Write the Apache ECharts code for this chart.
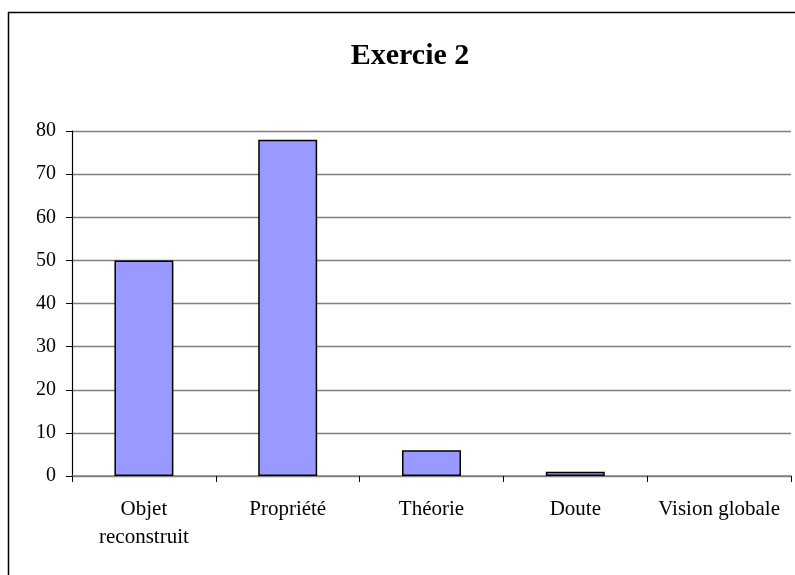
<!DOCTYPE html>
<html>
<head>
<meta charset="utf-8">
<script src="https://cdn.jsdelivr.net/npm/echarts@6/dist/echarts.min.js"></script>
<style>
  html, body { margin: 0; padding: 0; background: #fff; }
  #chart { width: 795px; height: 575px; }
</style>
</head>
<body>
<div id="chart"></div>
<script>
// categories and values
const categories = ['Objet\nreconstruit', 'Propriété', 'Théorie', 'Doute', 'Vision globale'];
const values = [50, 78, 6, 1, 0];
const yTicks = [0, 10, 20, 30, 40, 50, 60, 70, 80];

const font = '"Liberation Serif", "DejaVu Serif", serif';

const chart = echarts.init(document.getElementById('chart'), null, { renderer: 'canvas' });

// a zero-height bar shows no outline in the original
const barData = values.map((v) => (v === 0 ? { value: v, itemStyle: { borderWidth: 0 } } : v));

chart.setOption({
  backgroundColor: '#fff',
  animation: false,
  title: {
    text: 'Exercie 2',
    left: 405,
    top: 36,
    textAlign: 'center',
    textStyle: { fontFamily: font, fontSize: 30, fontWeight: 'bold', color: '#000' },
  },
  graphic: [
    {
      type: 'rect',
      shape: { x: 8.5, y: 12.5, width: 820, height: 620 },
      style: { fill: 'none', stroke: '#000', lineWidth: 1.5 },
      silent: true,
    },
  ],
  grid: { left: 72, right: 4, top: 131, bottom: 99, containLabel: false },
  xAxis: {
    type: 'category',
    data: categories,
    axisLine: { lineStyle: { color: '#808080', width: 1.5 } },
    axisTick: { show: true, length: 6, inside: false, lineStyle: { color: '#000' } },
    axisLabel: {
      fontFamily: font, fontSize: 21, color: '#000',
      interval: 0, margin: 19, lineHeight: 28,
    },
  },
  yAxis: {
    type: 'value',
    min: yTicks[0],
    max: yTicks[yTicks.length - 1],
    interval: 10,
    axisLine: { show: true, lineStyle: { color: '#000', width: 1.2 } },
    axisTick: { show: true, length: 6, lineStyle: { color: '#000' } },
    axisLabel: { fontFamily: font, fontSize: 20, color: '#000', margin: 16 },
    splitLine: { show: true, lineStyle: { color: '#808080', width: 1.3 } },
  },
  series: [
    {
      type: 'bar',
      data: barData,
      barWidth: '41%',
      itemStyle: { color: '#9999FF', borderColor: '#000', borderWidth: 1.5 },
      z: 3,
    },
  ],
});
</script>
</body>
</html>
